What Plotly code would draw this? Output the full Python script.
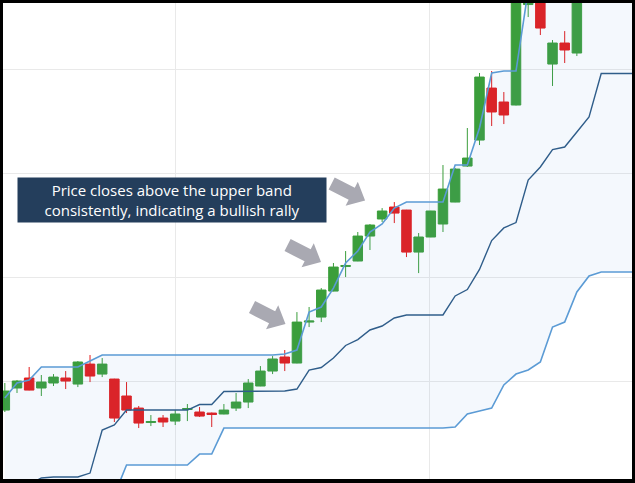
import math
import plotly.graph_objects as go

# ---- candle data (index = trading session) ----
candle_idx = list(range(48))
open_ = [97.21, 99.33, 100.29, 99.33, 99.81, 100.29, 99.71, 101.63, 100.67, 100.19,
         98.56, 97.40, 96.01, 96.44, 96.15, 97.26, 97.02, 96.92, 96.83, 97.40,
         97.98, 99.52, 100.96, 102.31, 101.73, 105.67, 106.15, 108.65, 111.01, 111.54,
         113.94, 115.58, 116.73, 116.44, 112.40, 113.85, 115.10, 117.21, 120.67, 123.17,
         128.17, 126.83, 126.54, 136.20, 138.08, 130.48, 132.50, 131.54]
high = [99.81, 100.10, 101.35, 100.58, 100.67, 100.96, 101.92, 102.50, 102.21, 100.22,
        99.90, 97.60, 96.73, 96.73, 97.21, 97.79, 97.50, 96.97, 97.79, 98.85,
        100.19, 101.44, 102.40, 102.98, 106.63, 107.12, 108.94, 111.35, 112.50, 114.33,
        115.10, 116.63, 117.21, 116.46, 114.23, 116.37, 120.77, 120.48, 124.33, 129.62,
        129.81, 127.79, 137.60, 139.33, 139.04, 132.79, 133.65, 140.67]
low = [97.02, 98.85, 99.10, 98.56, 99.52, 99.23, 99.42, 99.90, 100.38, 96.06,
       96.92, 95.48, 95.67, 95.58, 95.77, 96.15, 96.54, 95.58, 96.80, 97.12,
       97.40, 99.50, 100.67, 100.96, 101.70, 105.19, 105.67, 108.62, 110.00, 111.52,
       112.60, 115.29, 115.19, 111.92, 110.38, 113.83, 114.33, 117.19, 120.58, 122.69,
       124.52, 124.71, 126.50, 135.00, 133.27, 128.37, 130.58, 131.25]
close = [99.04, 100.00, 99.13, 99.90, 100.38, 100.00, 101.83, 100.48, 101.63, 96.44,
         97.21, 95.96, 96.11, 96.06, 96.83, 97.36, 96.63, 96.78, 97.21, 97.98,
         99.81, 100.96, 102.12, 101.73, 105.67, 105.77, 108.75, 110.96, 111.11, 113.94,
         115.00, 116.35, 116.15, 112.40, 113.85, 116.35, 118.46, 120.38, 121.44, 129.23,
         125.87, 125.58, 137.12, 138.56, 133.94, 132.50, 131.83, 139.52]

# ---- Donchian channel (extends past the last visible candle) ----
band_idx = list(range(53))
upper = [98.37, 99.81, 100.10, 101.35, 101.35, 101.35, 101.35, 101.92, 102.50, 102.50,
         102.50, 102.50, 102.50, 102.50, 102.50, 102.50, 102.50, 102.50, 102.50, 102.50,
         102.50, 102.50, 102.50, 102.60, 102.98, 106.63, 107.12, 108.94, 111.35, 112.50,
         114.33, 115.10, 116.63, 117.21, 117.21, 117.21, 117.21, 120.77, 120.77, 124.33,
         129.62, 129.81, 129.81, 137.60, 139.33, 139.33, 139.33, 139.33, 140.67, 148.65,
         148.65, 148.65, 148.65]
middle = [89.19, 89.91, 90.05, 90.68, 90.77, 90.77, 90.77, 91.15, 95.29, 95.77,
          97.21, 97.21, 97.21, 97.21, 97.21, 97.21, 97.74, 97.74, 98.99, 98.99,
          98.99, 98.99, 98.99, 99.04, 99.23, 101.06, 101.30, 102.21, 103.42, 103.99,
          104.91, 105.29, 106.06, 106.35, 106.35, 106.35, 106.35, 108.18, 108.80, 110.73,
          113.51, 114.72, 115.24, 119.33, 120.58, 122.26, 122.50, 123.95, 125.39, 129.57,
          129.57, 129.57, 129.57]
lower = [80.00, 80.00, 80.00, 80.00, 80.19, 80.19, 80.19, 80.38, 88.08, 89.04,
         91.92, 91.92, 91.92, 91.92, 91.92, 91.92, 92.98, 92.98, 95.48, 95.48,
         95.48, 95.48, 95.48, 95.48, 95.48, 95.48, 95.48, 95.48, 95.48, 95.48,
         95.48, 95.48, 95.48, 95.48, 95.48, 95.48, 95.48, 95.58, 96.83, 97.12,
         97.40, 99.62, 100.67, 101.06, 101.83, 105.19, 105.67, 108.56, 110.10, 110.48,
         110.48, 110.48, 110.48]

note_text = "Price closes above the upper band<br>consistently, indicating a bullish rally"
arrow_tip_idx = [23.06, 25.98, 29.60]
arrow_tip_price = [105.48, 111.44, 117.36]

# ---- styles ----
GREEN = "#3b9e3b"
RED = "#e31b1b"
BAND_LIGHT = "#5b9bd5"
BAND_DARK = "#2f5d8a"
FILL = "rgba(100,160,220,0.07)"
GRID = "#e9e9e9"
NAVY = "#243e5c"
ARROW = "#a9a9b2"

fig = go.Figure()

# filled channel (no lines)
fig.add_trace(go.Scatter(x=band_idx, y=upper, mode="lines", line=dict(width=0),
                         hoverinfo="skip", showlegend=False))
fig.add_trace(go.Scatter(x=band_idx, y=lower, mode="lines", line=dict(width=0),
                         fill="tonexty", fillcolor=FILL, hoverinfo="skip", showlegend=False))

fig.add_trace(go.Candlestick(
    x=candle_idx, open=open_, high=high, low=low, close=close,
    increasing=dict(line=dict(color=GREEN, width=1), fillcolor=GREEN),
    decreasing=dict(line=dict(color=RED, width=1), fillcolor=RED),
    whiskerwidth=0, showlegend=False))

fig.add_trace(go.Scatter(x=band_idx, y=upper, mode="lines",
                         line=dict(color=BAND_LIGHT, width=1.6), showlegend=False))
fig.add_trace(go.Scatter(x=band_idx, y=middle, mode="lines",
                         line=dict(color=BAND_DARK, width=1.4), showlegend=False))
fig.add_trace(go.Scatter(x=band_idx, y=lower, mode="lines",
                         line=dict(color=BAND_LIGHT, width=1.6), showlegend=False))

# block arrows, pixel-sized shapes anchored at their tips
dx, dy = 33.5, 17.0
n = math.hypot(dx, dy)
ux, uy = dx / n, dy / n          # screen direction (y down)
nx, ny = -uy, ux
L, head_len, shaft_hw, head_hw = 37.5, 15.0, 6.75, 13.5
bx, by = -head_len * ux, -head_len * uy
tx, ty = -L * ux, -L * uy
pts = [(0, 0),
       (bx - head_hw * nx, by - head_hw * ny),
       (bx - shaft_hw * nx, by - shaft_hw * ny),
       (tx - shaft_hw * nx, ty - shaft_hw * ny),
       (tx + shaft_hw * nx, ty + shaft_hw * ny),
       (bx + shaft_hw * nx, by + shaft_hw * ny),
       (bx + head_hw * nx, by + head_hw * ny)]
path = "M " + " L ".join(f"{px:.2f},{-py:.2f}" for px, py in pts) + " Z"
for ax_, ay_ in zip(arrow_tip_idx, arrow_tip_price):
    fig.add_shape(type="path", path=path, xref="x", yref="y",
                  xsizemode="pixel", ysizemode="pixel", xanchor=ax_, yanchor=ay_,
                  fillcolor=ARROW, line=dict(width=0), layer="above")

fig.add_annotation(text=note_text, xref="paper", yref="paper", x=0.0227, y=0.635,
                   xanchor="left", yanchor="top", showarrow=False,
                   width=308, height=44, bgcolor=NAVY, borderpad=0,
                   align="center", valign="middle",
                   font=dict(family="Open Sans", size=15, color="white"))

fig.update_layout(
    width=635, height=483,
    margin=dict(l=3, r=3, t=3, b=4, pad=0),
    paper_bgcolor="black", plot_bgcolor="white",
    showlegend=False, boxgap=0.22, boxgroupgap=0,
    xaxis=dict(range=[-0.15, 51.53], showticklabels=False, ticks="", zeroline=False,
               showline=False, showgrid=True, gridcolor=GRID, gridwidth=1,
               tick0=14, dtick=20.87, rangeslider=dict(visible=False), fixedrange=True),
    yaxis=dict(range=[90.58, 136.35], showticklabels=False, ticks="", zeroline=False,
               showline=False, showgrid=True, gridcolor=GRID, gridwidth=1,
               tick0=0, dtick=10, fixedrange=True),
)

fig.write_html("out.html",
               config={"displayModeBar": False, "staticPlot": True},
               post_script="document.body.style.margin='0';"
                           "document.body.style.padding='0';"
                           "document.body.style.overflow='hidden';")
